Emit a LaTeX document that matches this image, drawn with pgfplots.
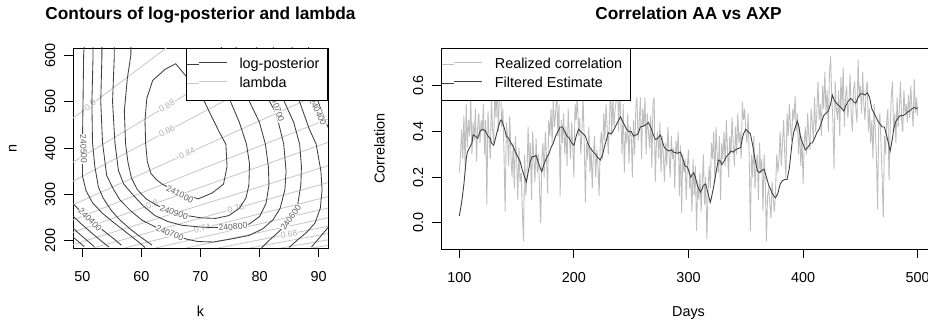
\documentclass[border=0pt]{standalone}
\usepackage{fontspec}
\setmainfont{Liberation Sans}
\usepackage{pgfplots}
\pgfplotsset{compat=1.18}
\definecolor{dk}{HTML}{404040}
\definecolor{lt}{HTML}{C8C8C8}
\definecolor{rc}{HTML}{BEBEBE}
\definecolor{dklab}{HTML}{606060}
\definecolor{ltlab}{HTML}{B0B0B0}
\newcommand{\axfont}{\fontsize{14.4bp}{17bp}\selectfont}
\newcommand{\tfont}{\fontsize{17.28bp}{20bp}\selectfont\bfseries}
\newcommand{\cfont}{\fontsize{8.64bp}{10bp}\selectfont}
\tikzset{
 dlab/.style={font=\cfont, text=dklab, fill=white, inner sep=0.5bp},
 llab/.style={font=\cfont, text=ltlab, fill=white, inner sep=0.5bp},
}
\pgfplotsset{
 rstyle/.style={
   scale only axis, anchor=south west,
   axis line style={black, line width=0.9bp},
   tick align=outside, tick pos=left,
   major tick length=8.6bp,
   tick style={black, line width=0.9bp},
   tick label style={font=\axfont},
   /pgf/number format/assume math mode=true,
   xticklabel style={anchor=north, inner sep=0pt},
   yticklabel style={rotate=90, anchor=south, inner sep=0pt},
   xticklabel shift=15.1bp, yticklabel shift=8.9bp,
   legend style={font=\axfont, draw=black, line width=0.9bp, fill=white,
     inner xsep=0pt, inner ysep=9.75bp, row sep=5.5bp, column sep=12.5bp,
     nodes={inner sep=0pt, text height=10.5bp, text depth=3bp}},
   legend cell align=left,
   legend image code/.code={\path (0bp,0bp) -- (12bp,0bp); \draw[##1] (12bp,2.25bp) -- (40bp,2.25bp);},
 },
 dkc/.style={dk, line width=0.85bp, forget plot},
 ltc/.style={lt, line width=0.85bp, forget plot},
}
\begin{document}
\begin{tikzpicture}
% ---------------- left panel ----------------
\begin{axis}[rstyle, at={(73bp,72bp)}, width=255bp, height=200bp,
  xmin=48.4, xmax=91.6, ymin=184, ymax=616,
  xtick={50,60,70,80,90}, ytick={200,300,400,500,600},
  legend style={at={(1,1)}, anchor=north east}]
\addlegendimage{dk, line width=0.9bp}\addlegendentry{log-posterior\hspace*{8bp}}
\addlegendimage{lt, line width=0.9bp}\addlegendentry{lambda\hspace*{8bp}}
% lambda contours
\addplot[ltc] coordinates {(48.4,464.6)(64.2,616)};
\addplot[ltc] coordinates {(48.4,369.3)(80.7,616)};
\addplot[ltc] coordinates {(48.4,328.2)(90.9,616)};
\addplot[ltc] coordinates {(48.4,277.3)(91.6,524.9)};
\addplot[ltc] coordinates {(48.4,244.4)(91.6,462.6)};
\addplot[ltc] coordinates {(48.4,217.8)(91.6,412.2)};
\addplot[ltc] coordinates {(48.4,191.2)(91.6,361.8)};
\addplot[ltc] coordinates {(51.8,184)(91.6,325.2)};
\addplot[ltc] coordinates {(57.1,184)(91.6,295)};
\addplot[ltc] coordinates {(62.4,184)(91.6,270.2)};
\addplot[ltc] coordinates {(67.6,184)(91.6,249.2)};
\addplot[ltc] coordinates {(73,184)(91.6,230.8)};
\addplot[ltc] coordinates {(78.3,184)(91.6,215.3)};
\addplot[ltc] coordinates {(83.6,184)(91.6,201.5)};
\addplot[ltc] coordinates {(88.9,184)(91.6,189.6)};
\node[llab, rotate=37] at (axis cs:51.3,492.5) {0.9};
\node[llab, rotate=31] at (axis cs:64.3,490.6) {0.88};
\node[llab, rotate=28] at (axis cs:64.3,436) {0.86};
\node[llab, rotate=24.5] at (axis cs:67.7,388) {0.84};
\node[llab, rotate=19.7] at (axis cs:61.8,278) {0.8};
\node[llab, rotate=15.7] at (axis cs:76,269.8) {0.76};
\node[llab, rotate=14.2] at (axis cs:70.3,226.4) {0.74};
\node[llab, rotate=11.3] at (axis cs:85,214.2) {0.68};
% log-posterior contours
\addplot[dkc] coordinates {(69.6,290)(72,303)(73.9,322)(74.5,360)(74.3,408)(73.2,434)(71.8,470)(70.5,505)(69.3,530)(67.7,553)(65.8,582)(64,570)(61.9,546)(60.9,507)(60.6,460)(60.7,410)(61,370)(61.6,345)(62.5,332)(63.5,322)(66,306)(69.6,290)};
\addplot[dkc] coordinates {(58.2,620)(58.2,600)(57.6,550)(57.1,480)(57.3,410)(57.7,370)(58.3,335)(59.3,310)(60.8,290)(62.5,277)(65,263)(67.7,254)(70.2,249)(72.6,248)(74.8,254)(76.6,270)(77.7,292)(78.2,320)(78.3,366)(77.8,408)(76.6,455)(75,503)(74.2,550)(73.5,620)};
\addplot[dkc] coordinates {(55.4,620)(55.4,600)(55.1,500)(55.5,412)(56.1,351)(57,322)(58.4,301)(60.3,275)(62.3,254)(64.5,241)(66.9,233)(70.3,229)(73,228)(76,229)(78.3,236)(80,252)(81.1,280)(81.6,320)(81.5,360)(81,408)(80,455)(78.2,503)(77,550)(76,620)};
\addplot[dkc] coordinates {(53.3,620)(53.3,600)(53.1,500)(53.4,412)(54.1,341)(55.2,312)(56.4,287)(58.2,264)(60.1,244)(63.5,222)(65.5,212)(67.7,203)(69.5,198)(72.2,197)(75,203)(78.2,211)(80.5,225)(82.3,245)(83.5,270)(84.3,310)(84.5,350)(84.1,408)(83.5,440)(82.8,475)(81.6,503)(80.5,550)(79.5,620)};
\addplot[dkc] coordinates {(51.8,620)(51.8,600)(51.6,500)(51.7,412)(52.1,360)(52.7,316)(53.5,292)(54.9,265)(56.3,245)(58,226)(59.4,212)(60.7,200)(61.8,190)};
\addplot[dkc] coordinates {(80,180)(81.6,200)(83.5,222)(85.4,250)(86.5,280)(87,320)(87.1,360)(86.8,408)(85.8,455)(84.1,503)(83,550)(82.3,620)};
\addplot[dkc] coordinates {(50.3,620)(50.2,600)(50.1,500)(50,412)(50,340)(50.6,308)(51.7,282)(53.3,260)(55.2,240)(57,222)(58.7,205)(59.8,194)(60.6,185)};
\addplot[dkc] coordinates {(85.5,620)(86.7,503)(88.4,442)(89.6,408)(90.4,350)(90.6,310)(90.3,270)(89.4,238)(88,218)(86.3,200)(85,185)};
\addplot[dkc] coordinates {(48,285)(49.6,264)(51.3,245)(53.2,225)(55.3,204)(56.6,190)};
\addplot[dkc] coordinates {(88.3,620)(89.2,530)(90.2,490)(91.6,445)(92.5,420)};
\addplot[dkc] coordinates {(92.5,240)(91.6,228)(90.6,213)(89.6,198)(88.8,186)};
\addplot[dkc] coordinates {(48,258)(49.8,236)(51.6,216)(53.3,198)(54.5,186)};
\addplot[dkc] coordinates {(48,232)(49.6,213)(51,198)(52,187)};
\addplot[dkc] coordinates {(48,212)(49.3,198)(50.3,187)};
\node[dlab, rotate=-27] at (axis cs:66.5,300) {241000};
\node[dlab, rotate=-19] at (axis cs:65.5,261) {240900};
\node[dlab, rotate=5] at (axis cs:75.5,230) {240800};
\node[dlab, rotate=-22] at (axis cs:64.8,216) {240700};
\node[dlab, rotate=-72] at (axis cs:83,487) {240700};
\node[dlab, rotate=55] at (axis cs:85.3,250) {240600};
\node[dlab, rotate=-88] at (axis cs:50.2,398) {240500};
\node[dlab, rotate=-45] at (axis cs:51.3,245) {240400};
\node[dlab, rotate=-65] at (axis cs:89.9,478) {240400};
\end{axis}
% ---------------- right panel ----------------
\begin{axis}[rstyle, at={(441bp,71bp)}, width=495bp, height=201bp,
  xmin=84, xmax=516, ymin=-0.1142, ymax=0.766,
  xtick={100,200,300,400,500}, ytick={0,0.2,0.4,0.6},
  yticklabel style={/pgf/number format/.cd, fixed, fixed zerofill, precision=1},
  legend style={at={(0,1)}, anchor=north west}]
\addplot[rc, line width=0.9bp] coordinates {
(100,0.22)(101,0.30)(102,0.41)(103,0.28)(104,0.47)(105,0.25)(106,0.52)(107,0.33)(108,0.45)(109,0.38)
(110,0.55)(111,0.30)(112,0.44)(113,0.36)(114,0.50)(115,0.27)(116,0.42)(117,0.48)(118,0.35)(119,0.45)
(120,0.40)(121,0.52)(122,0.30)(123,0.45)(124,0.08)(125,0.49)(126,0.38)(127,0.28)(128,0.55)(129,0.41)
(130,0.35)(131,0.58)(132,0.46)(133,0.62)(134,0.40)(135,0.55)(136,0.60)(137,0.42)(138,0.50)(139,0.30)
(140,0.05)(141,0.44)(142,0.38)(143,0.25)(144,0.47)(145,0.30)(146,0.20)(147,0.35)(148,0.15)(149,0.38)
(150,0.28)(151,0.10)(152,0.33)(153,0.18)(154,0.22)(155,0.05)(156,-0.08)(157,0.30)(158,0.12)(159,0.20)
(160,0.42)(161,0.25)(162,0.35)(163,0.10)(164,0.40)(165,0.28)(166,0.18)(167,0.37)(168,0.22)(169,0.30)
(170,0.15)(171,0.00)(172,0.28)(173,0.35)(174,0.20)(175,0.40)(176,0.30)(177,0.13)(178,0.45)(179,0.38)
(180,0.50)(181,0.35)(182,0.55)(183,0.42)(184,0.48)(185,0.60)(186,0.38)(187,0.52)(188,0.12)(189,0.45)
(190,0.35)(191,0.48)(192,0.30)(193,0.42)(194,0.25)(195,0.50)(196,0.38)(197,0.28)(198,0.44)(199,0.33)
(200,0.20)(201,0.52)(202,0.45)(203,0.58)(204,0.38)(205,0.46)(206,0.30)(207,0.40)(208,0.55)(209,0.36)
(210,0.09)(211,0.35)(212,0.28)(213,0.42)(214,0.22)(215,0.33)(216,0.15)(217,0.30)(218,0.38)(219,0.20)
(220,0.32)(221,0.25)(222,0.12)(223,0.35)(224,0.40)(225,0.28)(226,0.48)(227,0.36)(228,0.52)(229,0.42)
(230,0.30)(231,0.45)(232,0.60)(233,0.38)(234,0.55)(235,0.42)(236,0.50)(237,0.54)(238,0.65)(239,0.40)
(240,0.58)(241,0.45)(242,0.30)(243,0.52)(244,0.22)(245,0.40)(246,0.35)(247,0.48)(248,0.26)(249,0.42)
(250,0.38)(251,0.20)(252,0.45)(253,0.30)(254,0.50)(255,0.55)(256,0.36)(257,0.44)(258,0.55)(259,0.28)
(260,0.50)(261,0.42)(262,0.55)(263,0.30)(264,0.48)(265,0.40)(266,0.33)(267,0.47)(268,0.24)(269,0.52)
(270,0.55)(271,0.18)(272,0.35)(273,0.40)(274,0.28)(275,0.44)(276,0.22)(277,0.38)(278,0.30)(279,0.18)
(280,0.35)(281,0.25)(282,0.42)(283,0.30)(284,0.20)(285,0.38)(286,0.28)(287,0.33)(288,0.15)(289,0.36)
(290,0.30)(291,0.40)(292,0.12)(293,0.34)(294,0.045)(295,0.30)(296,0.22)(297,0.28)(298,0.10)(299,0.25)
(300,0.32)(301,0.15)(302,0.20)(303,0.05)(304,0.28)(305,0.12)(306,0.25)(307,-0.035)(308,0.18)(309,0.10)
(310,0.22)(311,0.05)(312,0.17)(313,0.30)(314,0.08)(315,0.20)(316,-0.07)(317,0.12)(318,0.25)(319,0.15)
(320,0.35)(321,0.28)(322,0.40)(323,0.18)(324,0.42)(325,0.30)(326,0.22)(327,0.38)(328,0.10)(329,0.35)
(330,0.28)(331,0.40)(332,0.25)(333,0.45)(334,0.32)(335,0.20)(336,0.38)(337,0.30)(338,0.46)(339,0.35)
(340,0.25)(341,0.42)(342,0.30)(343,0.48)(344,0.35)(345,0.40)(346,0.28)(347,0.53)(348,0.45)(349,0.50)
(350,0.40)(351,0.35)(352,0.48)(353,0.28)(354,-0.035)(355,0.30)(356,0.20)(357,0.38)(358,0.15)(359,0.25)
(360,0.30)(361,0.10)(362,0.35)(363,0.22)(364,0.28)(365,0.05)(366,0.30)(367,0.18)(368,-0.08)(369,0.12)
(370,0.15)(371,0.08)(372,0.02)(373,0.18)(374,0.10)(375,0.05)(376,0.15)(377,0.30)(378,0.22)(379,0.28)
(380,0.40)(381,0.25)(382,0.35)(383,0.45)(384,0.30)(385,0.20)(386,0.48)(387,0.38)(388,0.52)(389,0.42)
(390,0.36)(391,0.50)(392,0.45)(393,0.556)(394,0.40)(395,0.48)(396,0.30)(397,0.42)(398,0.25)(399,0.38)
(400,0.17)(401,0.35)(402,0.42)(403,0.30)(404,0.48)(405,0.38)(406,0.32)(407,0.50)(408,0.44)(409,0.36)
(410,0.55)(411,0.40)(412,0.48)(413,0.62)(414,0.45)(415,0.52)(416,0.38)(417,0.60)(418,0.50)(419,0.66)
(420,0.48)(421,0.58)(422,0.40)(423,0.65)(424,0.73)(425,0.55)(426,0.45)(427,0.235)(428,0.62)(429,0.50)
(430,0.45)(431,0.58)(432,0.38)(433,0.64)(434,0.50)(435,0.68)(436,0.42)(437,0.55)(438,0.60)(439,0.46)
(440,0.52)(441,0.65)(442,0.48)(443,0.40)(444,0.58)(445,0.62)(446,0.50)(447,0.44)(448,0.715)(449,0.55)
(450,0.60)(451,0.48)(452,0.66)(453,0.52)(454,0.45)(455,0.58)(456,0.62)(457,0.40)(458,0.50)(459,0.35)
(460,0.45)(461,0.28)(462,0.52)(463,0.40)(464,0.30)(465,0.06)(466,0.42)(467,0.48)(468,0.35)(469,0.20)
(470,0.025)(471,0.38)(472,0.30)(473,0.45)(474,0.50)(475,0.185)(476,0.42)(477,0.55)(478,0.62)(479,0.40)
(480,0.48)(481,0.35)(482,0.55)(483,0.42)(484,0.50)(485,0.62)(486,0.45)(487,0.40)(488,0.58)(489,0.48)
(490,0.52)(491,0.44)(492,0.56)(493,0.46)(494,0.60)(495,0.50)(496,0.42)(497,0.63)(498,0.48)(499,0.55)
(500,0.47)};
\addlegendentry{Realized correlation\hspace*{8bp}}
\addplot[dk, line width=0.9bp] coordinates {
(100,0.03)(102,0.09)(104,0.17)(106,0.28)(107,0.31)(109,0.33)(111,0.35)(112,0.385)(114,0.38)(116,0.37)
(118,0.40)(120,0.41)(121,0.41)(123,0.40)(125,0.38)(127,0.37)(128,0.35)(130,0.34)(132,0.38)(134,0.42)
(136,0.45)(137,0.45)(139,0.42)(141,0.38)(143,0.37)(145,0.35)(147,0.335)(149,0.31)(151,0.29)(153,0.27)
(155,0.23)(157,0.20)(158.5,0.18)(160,0.22)(162,0.27)(163.5,0.29)(165,0.29)(167,0.295)(168,0.28)(170,0.25)
(171,0.235)(172,0.225)(174,0.26)(176.6,0.29)(178,0.30)(180,0.33)(182,0.35)(184,0.38)(186,0.40)(188,0.42)
(190,0.42)(192,0.40)(194,0.38)(196,0.37)(198,0.35)(200,0.34)(202,0.38)(204,0.41)(206,0.40)(208,0.39)
(210,0.38)(212,0.35)(214,0.33)(217,0.31)(219,0.30)(221,0.285)(223,0.275)(225,0.30)(227,0.34)(229,0.375)
(230,0.395)(232,0.39)(234,0.40)(236,0.42)(238,0.44)(240.6,0.465)(242,0.45)(244,0.43)(246,0.41)(248,0.40)
(250,0.40)(252,0.38)(254,0.385)(256,0.39)(258,0.42)(261,0.425)(263,0.43)(265,0.44)(267,0.42)(269,0.39)
(271,0.365)(273,0.37)(275.5,0.385)(277,0.36)(279,0.33)(281,0.32)(283,0.315)(285,0.32)(287,0.31)(290,0.305)
(293,0.31)(295,0.28)(297,0.25)(299,0.245)(300,0.23)(302,0.20)(303,0.21)(304.6,0.22)(306,0.20)(308,0.16)
(310.5,0.135)(312,0.15)(313,0.165)(315,0.17)(317,0.13)(319,0.09)(320,0.11)(322,0.16)(324,0.22)(326,0.275)
(328,0.27)(329,0.255)(331,0.27)(333,0.29)(335,0.30)(337,0.315)(339,0.31)(341,0.32)(343,0.325)(345.5,0.33)
(347,0.37)(348,0.39)(350,0.41)(352,0.40)(354,0.39)(356,0.34)(358,0.28)(360,0.23)(362,0.22)(364,0.23)
(366,0.235)(368,0.20)(370,0.165)(371.6,0.148)(373,0.13)(375,0.115)(376,0.11)(378,0.13)(380,0.17)(382,0.185)
(384,0.19)(386,0.19)(388,0.24)(390.6,0.36)(392,0.40)(394,0.43)(395,0.445)(396,0.43)(398,0.37)(400,0.345)
(402,0.32)(404,0.33)(406.5,0.35)(408,0.35)(410,0.37)(412,0.395)(414,0.41)(416,0.44)(418,0.47)(420,0.48)
(422,0.49)(424,0.52)(425.5,0.56)(427,0.54)(428,0.53)(430,0.52)(432,0.51)(434,0.50)(435.6,0.49)(437,0.51)
(439,0.53)(441.5,0.545)(443,0.54)(444,0.53)(446,0.525)(448,0.55)(450,0.565)(452,0.565)(454,0.56)(456,0.57)
(458,0.55)(460,0.50)(462,0.48)(464,0.46)(466,0.44)(467.7,0.43)(469,0.42)(471,0.42)(472,0.40)(474,0.36)
(476,0.315)(478,0.37)(479,0.41)(481,0.445)(483,0.46)(485,0.47)(487,0.47)(489,0.475)(491,0.485)(493,0.49)
(495,0.50)(497,0.505)(499,0.50)(500,0.505)};
\addlegendentry{Filtered Estimate\hspace*{8bp}}
\end{axis}
% ---------------- titles and axis labels ----------------
\node[font=\tfont, anchor=base] at (200.5bp,300.5bp) {Contours of log-posterior and lambda};
\node[font=\tfont, anchor=base] at (688.5bp,300.5bp) {Correlation AA vs AXP};
\node[font=\axfont, anchor=base] at (200.5bp,4bp) {k};
\node[font=\axfont, anchor=base] at (688.5bp,4bp) {Days};
\node[font=\axfont, anchor=base, rotate=90] at (16.7bp,172bp) {n};
\node[font=\axfont, anchor=base, rotate=90] at (384.7bp,171.5bp) {Correlation};
\pgfresetboundingbox
\path (0bp,0bp) rectangle (928bp,320bp);
\end{tikzpicture}
\end{document}
